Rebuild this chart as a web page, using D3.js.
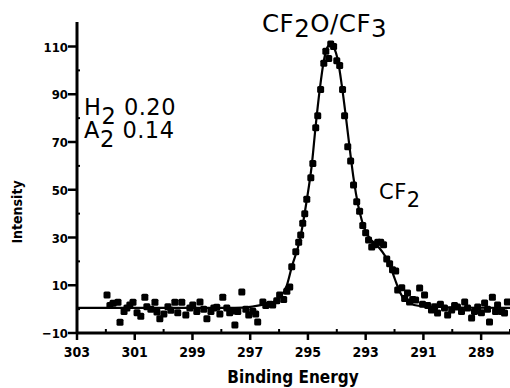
<!DOCTYPE html>
<html>
<head>
<meta charset="utf-8">
<script src="https://cdn.jsdelivr.net/npm/d3@7"></script>
<style>
  body { margin: 0; background: #fff; }
  svg { display: block; }
  .tick-label { font-family: "DejaVu Sans Condensed", "DejaVu Sans", sans-serif; font-weight: bold; font-size: 14px; }
  .note { font-family: "DejaVu Sans", sans-serif; }
</style>
</head>
<body>
<div id="chart"></div>
<script>
const W = 510, H = 388;

// measured points (binding energy, intensity)
const pointEnergy = [301.96, 301.86, 301.75, 301.58, 301.51, 301.37, 301.27, 301.17, 301.06, 300.92,
  300.79, 300.65, 300.58, 300.44, 300.30, 300.23, 300.13, 299.99, 299.85, 299.75,
  299.61, 299.51, 299.37, 299.23, 299.09, 298.99, 298.85, 298.74, 298.61, 298.50,
  298.36, 298.26, 298.16, 298.05, 297.95, 297.81, 297.71, 297.60, 297.53, 297.43,
  297.29, 297.15, 297.05, 296.91, 296.81, 296.74, 296.56, 296.46, 296.32, 296.22,
  296.08, 295.98, 295.84, 295.73, 295.63, 295.56, 295.42, 295.32, 295.25, 295.18,
  295.11, 295.04, 294.90, 294.83, 294.73, 294.66, 294.56, 294.45, 294.38, 294.28,
  294.21, 294.11, 294.00, 293.90, 293.80, 293.73, 293.62, 293.52, 293.42, 293.31,
  293.21, 293.10, 293.00, 292.90, 292.79, 292.69, 292.58, 292.48, 292.38, 292.27,
  292.17, 292.07, 291.96, 291.89, 291.75, 291.65, 291.55, 291.48, 291.37, 291.27,
  291.13, 291.03, 290.96, 290.85, 290.72, 290.61, 290.51, 290.41, 290.27, 290.16,
  290.02, 289.92, 289.82, 289.68, 289.57, 289.47, 289.33, 289.23, 289.12, 288.99,
  288.88, 288.78, 288.71, 288.61, 288.50, 288.43, 288.29, 288.19, 288.09];
const pointIntensity = [5.9, 1.5, 2.5, 2.9, -5.5, -1.0, 0.5, 1.7, 2.9, -1.5,
  -3.0, 5.0, 1.0, 0.0, 2.9, -1.2, -4.0, -2.0, 1.0, -0.5,
  2.9, -1.5, 2.9, -2.5, 0.5, 1.7, -1.0, 3.0, 0.0, -4.0,
  -1.0, 0.5, 0.8, -2.0, 5.0, 0.5, -1.5, -0.8, -6.6, -1.0,
  7.2, 0.0, -2.5, -0.9, -2.0, -5.4, 3.0, 1.5, 2.0, 1.7,
  3.5, 5.9, 4.0, 7.5, 9.3, 17.7, 24, 28, 31, 36,
  40, 46, 55, 61, 76, 81, 92, 103, 108, 105,
  111, 110, 104, 102, 92, 81, 68, 62, 52, 45,
  41, 35, 32, 29, 26, 27, 28, 28, 27, 21,
  19, 16.5, 16, 8, 9, 4.5, 6.8, 3, 4, 3.8,
  8.9, 2, 5.9, 1.5, -0.4, 1.0, -1.6, 2.0, 0.5, -2.5,
  -0.4, 1.5, 0.9, -1.0, 3.0, 0.5, -3.7, -1.0, 0.9, -1.5,
  2.6, 0.0, -5.4, 5.0, -1.0, 1.7, -1.0, -1.6, 3.0];

// fitted envelope
const fitEnergy = [303.0, 297.53, 296.32, 295.98, 295.73, 295.56, 295.28, 295.04, 294.87, 294.73,
  294.59, 294.45, 294.31, 294.21, 294.10, 293.96, 293.83, 293.69, 293.55, 293.41,
  293.27, 293.13, 292.99, 292.85, 292.68, 292.52, 292.34, 292.17, 292.00, 291.83,
  291.65, 291.48, 291.13, 290.44, 288.0];
const fitIntensity = [0.5, 0.5, 2.6, 5, 10, 17.7, 29, 45.7, 60, 77,
  92, 104, 110, 110.7, 109.5, 104, 94, 81, 67, 54,
  44, 37, 32.5, 29.5, 27.5, 25.5, 22.5, 18.5, 13, 7.5,
  4, 2.5, 1.3, 0.9, 0.5];

const xMajor = [303, 301, 299, 297, 295, 293, 291, 289];
const xMinor = [302, 300, 298, 296, 294, 292, 290, 288];
const yMajor = [110, 90, 70, 50, 30, 10, -10];
const yMinor = [100, 80, 60, 40, 20, 0];

const svg = d3.select("#chart").append("svg").attr("width", W).attr("height", H);

const x = d3.scaleLinear().domain([303, 288]).range([77, 510]);
const y = d3.scaleLinear().domain([-10, 110]).range([333, 46.5]);

// axes
svg.append("line").attr("x1", x(303)).attr("x2", W).attr("y1", y(-10)).attr("y2", y(-10))
  .attr("stroke", "#000").attr("stroke-width", 3);
svg.append("line").attr("x1", x(303)).attr("x2", x(303)).attr("y1", y(-10) + 1).attr("y2", 22)
  .attr("stroke", "#000").attr("stroke-width", 3);

svg.selectAll(".xmaj").data(xMajor).enter().append("line")
  .attr("x1", d => x(d)).attr("x2", d => x(d)).attr("y1", y(-10)).attr("y2", y(-10) + 7)
  .attr("stroke", "#000").attr("stroke-width", 2.5);
svg.selectAll(".xmin").data(xMinor).enter().append("line")
  .attr("x1", d => x(d)).attr("x2", d => x(d)).attr("y1", y(-10)).attr("y2", y(-10) - 4)
  .attr("stroke", "#000").attr("stroke-width", 2);
svg.selectAll(".xlab").data(xMajor).enter().append("text").attr("class", "tick-label")
  .attr("x", d => x(d)).attr("y", 357).attr("text-anchor", "middle").text(d => d);

svg.selectAll(".ymaj").data(yMajor).enter().append("line")
  .attr("x1", x(303) - 9).attr("x2", x(303)).attr("y1", d => y(d)).attr("y2", d => y(d))
  .attr("stroke", "#000").attr("stroke-width", 2.5);
svg.selectAll(".ymin").data(yMinor).enter().append("line")
  .attr("x1", x(303)).attr("x2", x(303) + 3).attr("y1", d => y(d)).attr("y2", d => y(d))
  .attr("stroke", "#000").attr("stroke-width", 2);
svg.selectAll(".ylab").data(yMajor).enter().append("text").attr("class", "tick-label")
  .style("font-size", "13px")
  .attr("x", x(303) - 9).attr("y", d => y(d) + 5).attr("text-anchor", "end")
  .text(d => d < 0 ? "\u2212" + Math.abs(d) : d);

svg.append("text").attr("class", "tick-label").style("font-size", "17px")
  .attr("x", 293).attr("y", 383).attr("text-anchor", "middle").text("Binding Energy");
svg.append("text").attr("class", "tick-label").style("font-size", "14px")
  .attr("transform", "translate(22,212) rotate(-90)").attr("text-anchor", "middle").text("Intensity");

// fit line
const line = d3.line().x((d, i) => x(fitEnergy[i])).y(d => y(d)).curve(d3.curveMonotoneX);
svg.append("path").datum(fitIntensity).attr("d", line)
  .attr("fill", "none").attr("stroke", "#000").attr("stroke-width", 2.2);

// data points
svg.selectAll(".pt").data(pointIntensity).enter().append("rect")
  .attr("x", (d, i) => x(pointEnergy[i]) - 3.5).attr("y", d => y(d) - 3.5)
  .attr("width", 7).attr("height", 7).attr("rx", 1.5).attr("fill", "#000");

// annotations
function note(tx, ty, size, parts, sub) {
  const t = svg.append("text").attr("class", "note").attr("x", tx).attr("y", ty)
    .style("font-size", size + "px").style("letter-spacing", "0.5px");
  parts.forEach(p => {
    const s = t.append("tspan").text(p[0]);
    if (p[1]) s.attr("dy", sub);
    else if (p[2]) s.attr("dy", -sub);
  });
}
note(262, 32, 24.5, [["CF"], ["2", true], ["O/CF", false, true], ["3", true]], 5);
note(84, 115, 22.5, [["H"], ["2", true], ["\u00a00.20", false, true]], 9);
note(84, 138, 22.5, [["A"], ["2", true], ["\u00a00.14", false, true]], 9);
note(379, 199, 21, [["CF"], ["2", true]], 8);
</script>
</body>
</html>
